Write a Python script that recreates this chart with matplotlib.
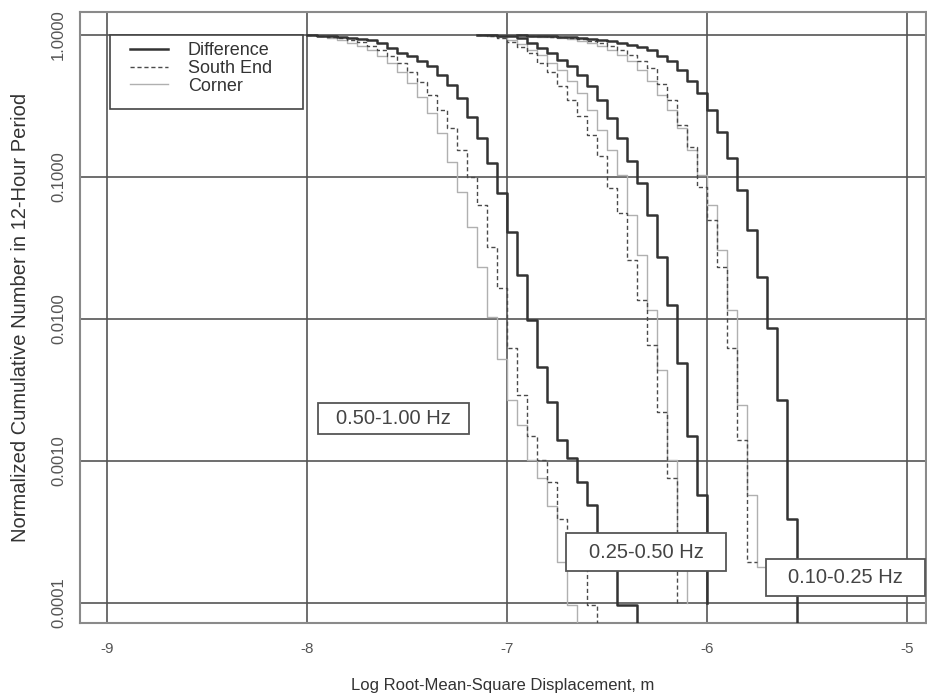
import numpy as np
import matplotlib
matplotlib.use('Agg')
import matplotlib.pyplot as plt
from matplotlib.patches import Rectangle
from matplotlib.lines import Line2D

plt.rcParams['font.family'] = ['Liberation Sans', 'DejaVu Sans']

# histogram bin width in log10(m); every curve steps at multiples of it
bin_width = 0.05

# each list: level of every bin from the start edge, last entry = value after the last edge
# (0 -> the curve falls out of the plot)

# 0.50-1.00 Hz
hi_start = -8.00
hi_difference = [1.0, 0.99, 0.984, 0.968, 0.952, 0.937, 0.922, 0.878, 0.810, 0.747,
                 0.711, 0.656, 0.605, 0.523, 0.444, 0.360, 0.265, 0.188, 0.125, 0.0772,
                 0.0410, 0.0204, 0.00984, 0.00459, 0.00260, 0.00141, 0.00105, 0.00071,
                 0.00049, 0.00029, 0.000195, 0.0000968, 0.0000968, 0]
hi_south_end = [1.0, 0.984, 0.968, 0.952, 0.922, 0.893, 0.837, 0.784, 0.711, 0.635,
                0.549, 0.467, 0.378, 0.296, 0.221, 0.155, 0.100, 0.0636, 0.0322, 0.0166,
                0.0063, 0.0029, 0.00151, 0.00101, 0.00071, 0.00039, 0.00029, 0.000195,
                0.0000968, 0]
hi_corner = [1.0, 0.984, 0.952, 0.922, 0.878, 0.837, 0.784, 0.711, 0.635, 0.549,
             0.459, 0.366, 0.282, 0.204, 0.128, 0.0785, 0.0445, 0.0233, 0.0104, 0.0052,
             0.0027, 0.0018, 0.00101, 0.00076, 0.00048, 0.000195, 0.0000968, 0]

# 0.25-0.50 Hz
mid_start = -7.15
mid_difference = [1.0, 0.995, 0.99, 0.984, 0.952, 0.878, 0.810, 0.747, 0.667, 0.605,
                  0.523, 0.437, 0.348, 0.260, 0.188, 0.130, 0.0908, 0.0541, 0.0273,
                  0.0126, 0.0049, 0.0015, 0.00058, 0.0001]
mid_south_end = [1.0, 0.984, 0.952, 0.893, 0.823, 0.747, 0.635, 0.549, 0.437, 0.348,
                 0.269, 0.198, 0.140, 0.0838, 0.0557, 0.0261, 0.0137, 0.0066, 0.0022,
                 0.00076, 0.0001]
mid_corner = [1.0, 0.984, 0.968, 0.922, 0.864, 0.784, 0.723, 0.635, 0.567, 0.474,
              0.391, 0.296, 0.214, 0.155, 0.103, 0.0541, 0.0282, 0.0116, 0.0044,
              0.00101, 0.000195, 0.0001]

# 0.10-0.25 Hz
lo_start = -6.95
lo_difference = [1.0, 0.99, 0.984, 0.984, 0.968, 0.968, 0.952, 0.937, 0.922, 0.907,
                 0.878, 0.850, 0.823, 0.784, 0.711, 0.656, 0.567, 0.474, 0.391, 0.296,
                 0.207, 0.136, 0.0810, 0.0423, 0.0198, 0.0087, 0.0027, 0.00039, 0]
lo_south_end = [1.0, 0.984, 0.984, 0.968, 0.968, 0.952, 0.937, 0.907, 0.878, 0.837,
                0.784, 0.723, 0.656, 0.586, 0.452, 0.348, 0.232, 0.163, 0.0851, 0.0499,
                0.0233, 0.0063, 0.0014, 0.000195, 0.000195]
lo_corner = [1.0, 0.984, 0.968, 0.968, 0.952, 0.937, 0.907, 0.878, 0.837, 0.784,
             0.723, 0.656, 0.567, 0.474, 0.378, 0.296, 0.221, 0.155, 0.103, 0.0635,
             0.0306, 0.0116, 0.0025, 0.00058, 0.00018, 0.00018]

bands = [
    ('0.50-1.00 Hz', hi_start, hi_difference, hi_south_end, hi_corner),
    ('0.25-0.50 Hz', mid_start, mid_difference, mid_south_end, mid_corner),
    ('0.10-0.25 Hz', lo_start, lo_difference, lo_south_end, lo_corner),
]

x_ticks = [-9, -8, -7, -6, -5]
x_tick_labels = ['-9', '-8', '-7', '-6', '-5']
y_ticks = [1e-4, 1e-3, 1e-2, 1e-1, 1.0]
y_tick_labels = ['0.0001', '0.0010', '0.0100', '0.1000', '1.0000']

series_names = ['Difference', 'South End', 'Corner']
styles = {
    'Difference': dict(color='#333333', lw=1.8, ls='-'),
    'South End': dict(color='#4a4a4a', lw=1.0, ls=(0, (3, 2))),
    'Corner': dict(color='#b0b0b0', lw=1.0, ls='-'),
}

# label boxes, axes fraction (x0, y0, width, height)
label_boxes = {
    '0.50-1.00 Hz': (0.281, 0.309, 0.179, 0.051),
    '0.25-0.50 Hz': (0.5745, 0.085, 0.189, 0.062),
    '0.10-0.25 Hz': (0.811, 0.044, 0.188, 0.061),
}


def draw_curve(ax, start, levels, style):
    edges = np.round(start + bin_width * np.arange(len(levels)), 2)
    ys = [v if v > 0 else 1e-7 for v in levels]
    ax.plot(edges, ys, drawstyle='steps-post', zorder=3, **style)


fig = plt.figure(figsize=(9.28, 6.98), dpi=100)
ax = fig.add_axes([0.0862, 0.1074, 0.9116, 0.8754])

ax.set_yscale('log')
ax.set_xlim(-9.135, -4.905)
ax.set_ylim(7.23e-5, 1.452)

for name, start, diff, south, corner in bands:
    draw_curve(ax, start, corner, styles['Corner'])
    draw_curve(ax, start, south, styles['South End'])
    draw_curve(ax, start, diff, styles['Difference'])

ax.set_xticks(x_ticks)
ax.set_xticklabels(x_tick_labels)
ax.set_yticks(y_ticks)
ax.set_yticklabels(y_tick_labels)
ax.yaxis.set_minor_locator(matplotlib.ticker.NullLocator())
ax.tick_params(axis='both', length=0, labelcolor='#555555')
ax.tick_params(axis='x', pad=14, labelsize=11)
ax.tick_params(axis='y', pad=10, labelsize=12)
for lab in ax.get_yticklabels():
    lab.set_rotation(90)
    lab.set_va('center')

ax.grid(True, color='#555555', lw=1.2)
ax.set_axisbelow(True)
for sp in ax.spines.values():
    sp.set_color('#8a8a8a')
    sp.set_linewidth(1.5)

ax.set_xlabel('Log Root-Mean-Square Displacement, m', fontsize=12, color='#333333', va='center')
ax.xaxis.set_label_coords(0.5, -0.1015)
ax.set_ylabel('Normalized Cumulative Number in 12-Hour Period', fontsize=14.5, color='#333333', va='center')
ax.yaxis.set_label_coords(-0.0709, 0.5)

# legend
ax.add_patch(Rectangle((0.0355, 0.841), 0.2281, 0.121, transform=ax.transAxes,
                       fc='white', ec='#444444', lw=1.2, zorder=4))
handles = [Line2D([], [], **styles[n]) for n in series_names]
ax.legend(handles, series_names, loc='upper left', bbox_to_anchor=(0.0591, 0.951),
          frameon=False, borderpad=0, borderaxespad=0, handlelength=2.1,
          handletextpad=1.1, labelspacing=0.05, fontsize=13, labelcolor='#333333')

for name, (x0, y0, w, h) in label_boxes.items():
    ax.add_patch(Rectangle((x0, y0), w, h, transform=ax.transAxes, fc='white',
                           ec='#555555', lw=1.3, zorder=6))
    ax.text(x0 + w / 2, y0 + h / 2, name, transform=ax.transAxes, ha='center',
            va='center', fontsize=14.5, color='#444444', zorder=7)

fig.savefig('out.png', dpi=100)
